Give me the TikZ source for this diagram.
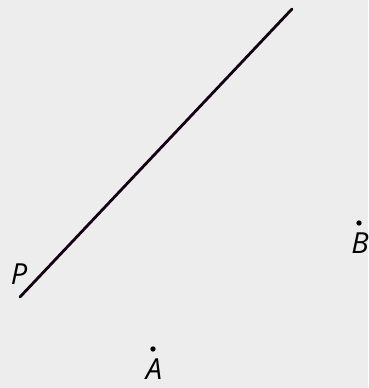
\documentclass[tikz,border=0pt]{standalone}
\usepackage{fontspec}
\setmainfont{Open Sans}

\begin{document}
\begin{tikzpicture}[x=1pt, y=-1pt, dot/.style = {circle, fill, inner sep=1.9pt}, lbl/.style = {font=\fontsize{29}{29}\selectfont\itshape, inner sep=0pt}]
            \fill[black!7] (0,0) rectangle (368,388);
            \useasboundingbox (0,0) rectangle (368,388);

            % line from P
            \coordinate (p) at (20,297);
            \coordinate (q) at (292,9);
            \node[lbl] (plabel) at (19,274) {P};

            % points
            \node[dot] (a) at (153,349) {};
            \node[lbl] (alabel) at (154,369) {A};
            \node[dot] (b) at (359,223) {};
            \node[lbl] (blabel) at (360,243) {B};

            \draw[line width=2.8pt, line cap=round, color=black!85!violet] (p) -- (q);
        \end{tikzpicture}
\end{document}
